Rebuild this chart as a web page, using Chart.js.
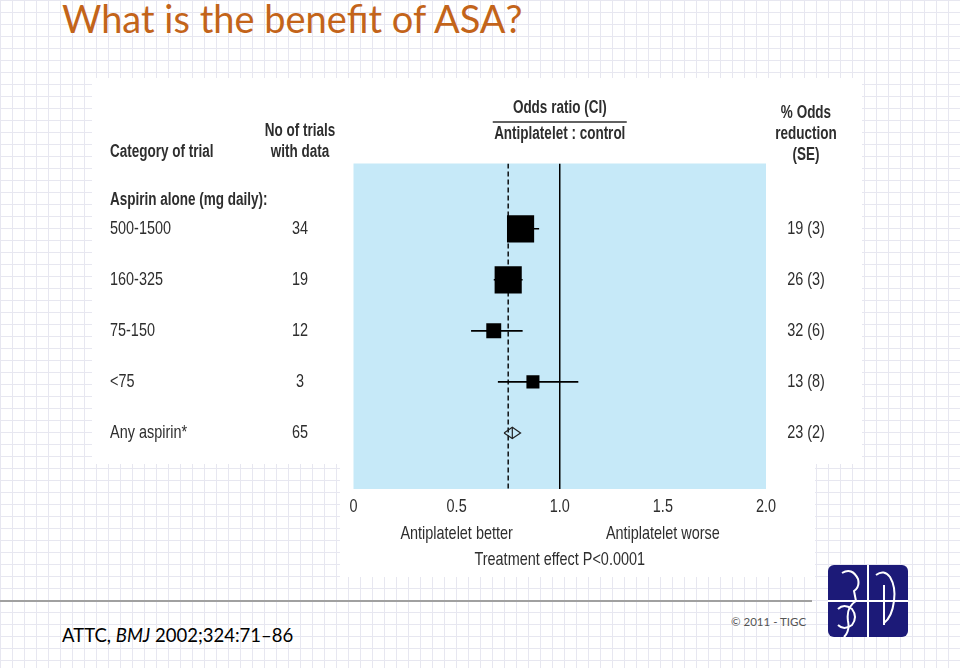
<!DOCTYPE html>
<html><head><meta charset="utf-8">
<script src="https://cdn.jsdelivr.net/npm/chart.js@4.4.1/dist/chart.umd.min.js"></script>
<style>
html,body{margin:0;padding:0;width:960px;height:668px;overflow:hidden;}
body{position:relative;background-color:#fff;
 background-image:linear-gradient(to right,#e7e7f0 1px,transparent 1px),linear-gradient(to bottom,#e7e7f0 1px,transparent 1px);
 background-size:12px 12px;}
#title{position:absolute;left:62px;top:-5px;font-family:Lato,'Open Sans',sans-serif;font-size:38px;color:#c3641a;white-space:nowrap;}
.panel{position:absolute;background:#fff;}
#rule{position:absolute;left:0;top:600px;width:812px;height:2px;background:#a0a0a0;}
#cite{position:absolute;left:62px;top:624px;font-family:Lato,'Open Sans',sans-serif;font-size:18.5px;color:#000;white-space:nowrap;}
#copy{position:absolute;left:731px;top:615px;font-family:Lato,'Open Sans',sans-serif;font-size:11.5px;color:#555;white-space:nowrap;}
#logo{position:absolute;left:828px;top:565px;}
#c{position:absolute;left:0;top:0;}
</style></head>
<body>
<div class="panel" style="left:92px;top:78px;width:770px;height:386px;"></div>
<div class="panel" style="left:340px;top:463px;width:475px;height:114px;"></div>
<div id="title">What is the benefit of ASA?</div>
<div id="rule"></div>
<div id="cite">ATTC, <i>BMJ</i> 2002;324:71–86</div>
<div id="copy">© 2011 - TIGC</div>
<svg id="logo" width="80" height="72" viewBox="0 0 80 72">
 <rect x="0" y="0" width="80" height="72" rx="6" fill="#1c1a78"/>
 <line x1="40" y1="0" x2="40" y2="72" stroke="#fff" stroke-width="2"/>
 <line x1="0" y1="36" x2="80" y2="36" stroke="#fff" stroke-width="2"/>
 <path d="M14 8 q10 -6 16 6 q2 8 -4 12 l2 10 q-10 6 -8 20 q2 10 -4 16" stroke="#fff" stroke-width="2" fill="none"/>
 <path d="M48 10 q8 -6 14 2 q6 10 4 24 q-2 16 -10 22 M56 20 v40" stroke="#fff" stroke-width="2" fill="none"/>
 <path d="M10 44 q6 -6 14 0 q6 8 0 16 q-8 6 -14 0" stroke="#fff" stroke-width="2" fill="none"/>
</svg>
<canvas id="c" width="960" height="668"></canvas>
<script>
// ---- data ----
const categories = ['500-1500', '160-325', '75-150', '<75', 'Any aspirin*'];
const trialCounts = ['34', '19', '12', '3', '65'];
const oddsRatio = [0.81, 0.75, 0.68, 0.87, 0.77];
const ciLow = [0.75, 0.68, 0.57, 0.70, 0.73];
const ciHigh = [0.90, 0.82, 0.82, 1.09, 0.81];
const oddsReduction = ['19 (3)', '26 (3)', '32 (6)', '13 (8)', '23 (2)'];
const boxWeight = [1.0, 1.0, 0.55, 0.48];
const xTickLabels = ['0', '0.5', '1.0', '1.5', '2.0'];
const overallLine = 0.75;
const noEffectLine = 1.0;

// ---- chart ----
const Y_MIN = -1.28, Y_MAX = 5.1;
const FONT = "'Liberation Sans',Arial,sans-serif";
const TXT = '#2e2e2e';
const nSub = boxWeight.length;
const summaryIdx = categories.length - 1;
const dH = 0.11;

function narrowText(ctx, text, x, y, align, font, sx) {
  ctx.save();
  ctx.font = font;
  ctx.textBaseline = 'middle';
  ctx.textAlign = 'left';
  const w = ctx.measureText(text).width * sx;
  const left = align === 'center' ? x - w / 2 : (align === 'right' ? x - w : x);
  ctx.translate(left, y);
  ctx.scale(sx, 1);
  ctx.fillText(text, 0, 0);
  ctx.restore();
}

const datasets = [];
datasets.push({
  label: 'boxes', order: 0,
  data: boxWeight.map((w, i) => ({x: oddsRatio[i], y: i})),
  pointStyle: 'rect', pointRadius: boxWeight.map(w => 19.2 * w),
  pointBackgroundColor: '#000', pointBorderWidth: 0, showLine: false
});
for (let i = 0; i < nSub; i++) {
  datasets.push({label: 'ci' + i, order: 1,
    data: [{x: ciLow[i], y: i}, {x: ciHigh[i], y: i}],
    showLine: true, borderColor: '#000', borderWidth: 1.6, pointRadius: 0});
}
const s = summaryIdx;
datasets.push({label: 'diamond', order: 1,
  data: [{x: ciLow[s], y: s}, {x: oddsRatio[s], y: s - dH}, {x: ciHigh[s], y: s}, {x: oddsRatio[s], y: s + dH}, {x: ciLow[s], y: s}],
  showLine: true, borderColor: '#222', borderWidth: 1.2, pointRadius: 0, fill: false, tension: 0});
datasets.push({label: 'diamondMid', order: 1,
  data: [{x: oddsRatio[s], y: s - dH}, {x: oddsRatio[s], y: s + dH}],
  showLine: true, borderColor: '#222', borderWidth: 1.2, pointRadius: 0});
datasets.push({label: 'overall', order: 2,
  data: [{x: overallLine, y: Y_MIN}, {x: overallLine, y: Y_MAX}],
  showLine: true, borderColor: '#000', borderWidth: 1.4, borderDash: [5, 3], pointRadius: 0});
datasets.push({label: 'noeffect', order: 2,
  data: [{x: noEffectLine, y: Y_MIN}, {x: noEffectLine, y: Y_MAX}],
  showLine: true, borderColor: '#000', borderWidth: 1.5, pointRadius: 0});

const forestText = {
  id: 'forestText',
  beforeDraw(chart) {
    const {ctx, chartArea: a} = chart;
    ctx.save();
    ctx.fillStyle = '#c6e9f8';
    ctx.fillRect(a.left, a.top, a.right - a.left, a.bottom - a.top);
    ctx.restore();
  },
  afterDraw(chart) {
    const {ctx, chartArea: a, scales: {x, y}} = chart;
    const colCat = 110, colN = 300, colR = a.right + 40;
    const r0 = y.getPixelForValue(0);
    ctx.save();
    ctx.fillStyle = TXT;
    const bold = 'bold 18px ' + FONT, reg = '19px ' + FONT;
    const bs = 0.75, rs = 0.76;
    // headers
    narrowText(ctx, 'Category of trial', colCat, 152, 'left', bold, bs);
    narrowText(ctx, 'Aspirin alone (mg daily):', colCat, r0 - 29, 'left', bold, bs);
    narrowText(ctx, 'No of trials', colN, 131, 'center', bold, bs);
    narrowText(ctx, 'with data', colN, 152, 'center', bold, bs);
    const cx = x.getPixelForValue(noEffectLine);
    narrowText(ctx, 'Odds ratio (CI)', cx, 108, 'center', bold, bs);
    narrowText(ctx, 'Antiplatelet : control', cx, 134, 'center', bold, bs);
    ctx.strokeStyle = TXT; ctx.lineWidth = 1.5;
    ctx.beginPath(); ctx.moveTo(cx - 67, 122); ctx.lineTo(cx + 67, 122); ctx.stroke();
    narrowText(ctx, '% Odds', colR, 113, 'center', bold, bs);
    narrowText(ctx, 'reduction', colR, 134, 'center', bold, bs);
    narrowText(ctx, '(SE)', colR, 155, 'center', bold, bs);
    // rows
    categories.forEach((c, i) => {
      const py = y.getPixelForValue(i);
      narrowText(ctx, c, colCat, py, 'left', reg, rs);
      narrowText(ctx, trialCounts[i], colN, py, 'center', reg, rs);
      narrowText(ctx, oddsReduction[i], colR, py, 'center', reg, rs);
    });
    // tick labels
    x.ticks.forEach((t, i) => {
      narrowText(ctx, xTickLabels[i], x.getPixelForValue(t.value), a.bottom + 18, 'center', reg, rs);
    });
    // axis captions
    narrowText(ctx, 'Antiplatelet better', x.getPixelForValue(0.5), a.bottom + 45, 'center', reg, rs);
    narrowText(ctx, 'Antiplatelet worse', x.getPixelForValue(1.5), a.bottom + 45, 'center', reg, rs);
    narrowText(ctx, 'Treatment effect P<0.0001', x.getPixelForValue(1.0), a.bottom + 71, 'center', reg, rs);
    ctx.restore();
  }
};

new Chart(document.getElementById('c'), {
  type: 'scatter',
  data: {datasets},
  options: {
    responsive: false, animation: false, devicePixelRatio: 1,
    layout: {padding: {left: 353.5, right: 194, top: 163.5, bottom: 139}},
    plugins: {legend: {display: false}, tooltip: {enabled: false}},
    scales: {
      x: {type: 'linear', min: 0, max: 2,
        grid: {display: false, drawTicks: false}, border: {display: false},
        afterFit(sc) { sc.height = 40; },
        ticks: {display: false, stepSize: 0.5}},
      y: {type: 'linear', min: Y_MIN, max: Y_MAX, reverse: true, display: false}
    }
  },
  plugins: [forestText]
});
</script>
</body></html>
